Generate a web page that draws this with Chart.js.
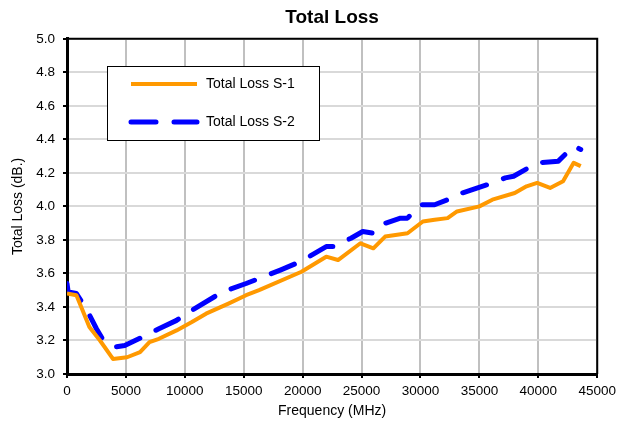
<!DOCTYPE html>
<html>
<head>
<meta charset="utf-8">
<script src="https://cdn.jsdelivr.net/npm/chart.js@4/dist/chart.umd.min.js"></script>
<style>
  body { margin: 0; background: #fff; }
</style>
</head>
<body>
<canvas id="lossChart" width="621" height="429"></canvas>
<script>
// values
var freqS1 = [0, 800, 1900, 2800, 3900, 5100, 6200, 7000, 7800, 9300, 10600, 11800, 13700, 15200,
  16300, 19900, 22000, 23000, 24900, 26000, 27000, 28900, 30200, 31200, 32300, 33100, 35000,
  36100, 38000, 39000, 39900, 41000, 42100, 43000, 43600];
var lossS1 = [3.48, 3.47, 3.28, 3.20, 3.09, 3.10, 3.13, 3.19, 3.21, 3.26, 3.31, 3.36, 3.42, 3.47,
  3.50, 3.61, 3.70, 3.68, 3.78, 3.75, 3.82, 3.84, 3.91, 3.92, 3.93, 3.97, 4.00,
  4.04, 4.08, 4.12, 4.14, 4.11, 4.15, 4.26, 4.24];

var freqS2 = [0, 100, 800, 1700, 2500, 3000, 4000, 4900, 6400, 7800, 9300, 10600, 13200, 15200,
  16300, 18100, 19800, 22000, 22600, 24100, 25100, 26000, 26600, 28300, 28900, 30000, 31200,
  32700, 33100, 35700, 37200, 37900, 39900, 41700, 43000, 43600];
var lossS2 = [3.54, 3.49, 3.48, 3.38, 3.27, 3.21, 3.16, 3.17, 3.22, 3.27, 3.32, 3.38, 3.49, 3.54,
  3.57, 3.62, 3.67, 3.76, 3.76, 3.81, 3.85, 3.84, 3.89, 3.93, 3.93, 4.01, 4.01,
  4.05, 4.07, 4.13, 4.17, 4.18, 4.26, 4.27, 4.36, 4.34];

var xTicks = [0, 5000, 10000, 15000, 20000, 25000, 30000, 35000, 40000, 45000];
var yTicks = [3.0, 3.2, 3.4, 3.6, 3.8, 4.0, 4.2, 4.4, 4.6, 4.8, 5.0];
var seriesNames = ['Total Loss S-1', 'Total Loss S-2'];

var FONT = 'Arial, "Liberation Sans", sans-serif';

function toPoints(xs, ys) {
  return xs.map(function (x, i) { return { x: x, y: ys[i] }; });
}

// frame on top and right, Excel style
var framePlugin = {
  id: 'frame',
  afterDatasetsDraw: function (chart) {
    var a = chart.chartArea, ctx = chart.ctx;
    ctx.save();
    ctx.strokeStyle = '#000';
    ctx.lineWidth = 2;
    ctx.beginPath();
    ctx.moveTo(a.left, a.top);
    ctx.lineTo(a.right, a.top);
    ctx.lineTo(a.right, a.bottom);
    ctx.stroke();
    ctx.restore();
  }
};

// legend box inside the plot
var boxLegend = {
  id: 'boxLegend',
  afterDraw: function (chart) {
    var ctx = chart.ctx;
    var bx = 107, by = 66, bw = 212, bh = 74;
    ctx.save();
    ctx.fillStyle = '#fff';
    ctx.fillRect(bx, by, bw, bh);
    ctx.strokeStyle = '#000';
    ctx.lineWidth = 1;
    ctx.strokeRect(bx + 0.5, by + 0.5, bw, bh);

    chart.data.datasets.forEach(function (ds, i) {
      var y = i === 0 ? 84 : 122;
      ctx.strokeStyle = ds.borderColor;
      ctx.lineWidth = ds.borderWidth;
      ctx.lineCap = ds.borderCapStyle || 'butt';
      ctx.setLineDash(ds.borderDash || []);
      ctx.beginPath();
      ctx.moveTo(131, y);
      ctx.lineTo(197, y);
      ctx.stroke();
      ctx.setLineDash([]);
      ctx.fillStyle = '#000';
      ctx.font = '14px ' + FONT;
      ctx.textBaseline = 'middle';
      ctx.fillText(ds.label, 206, y);
    });
    ctx.restore();
  }
};

var ctx = document.getElementById('lossChart').getContext('2d');

new Chart(ctx, {
  type: 'line',
  data: {
    datasets: [
      {
        label: seriesNames[0],
        data: toPoints(freqS1, lossS1),
        borderColor: '#ff9900',
        borderWidth: 4,
        borderJoinStyle: 'round',
        pointRadius: 0,
        tension: 0,
        fill: false
      },
      {
        label: seriesNames[1],
        data: toPoints(freqS2, lossS2),
        borderColor: '#0000ff',
        borderWidth: 5,
        borderDash: [25, 18],
        borderCapStyle: 'round',
        borderJoinStyle: 'round',
        pointRadius: 0,
        tension: 0,
        fill: false
      }
    ]
  },
  options: {
    responsive: false,
    animation: false,
    layout: { padding: { left: 0, right: 20, top: 0, bottom: 0 } },
    plugins: {
      legend: { display: false },
      tooltip: { enabled: false },
      title: {
        display: true,
        text: 'Total Loss',
        fullSize: false,
        color: '#000',
        font: { family: FONT, size: 19, weight: 'bold' },
        padding: { top: 6, bottom: 10 }
      }
    },
    scales: {
      x: {
        type: 'linear',
        min: 0,
        max: 45000,
        afterBuildTicks: function (s) { s.ticks = xTicks.map(function (v) { return { value: v }; }); },
        afterFit: function (s) { s.height = 55; },
        ticks: {
          color: '#000',
          font: { family: FONT, size: 13.5 },
          padding: 5,
          maxRotation: 0,
          callback: function (v) { return String(v); }
        },
        grid: {
          color: '#c0c0c0',
          lineWidth: 2,
          tickColor: '#000',
          tickLength: 4,
          tickWidth: 2
        },
        border: { display: true, color: '#000', width: 3 },
        title: {
          display: true,
          text: 'Frequency (MHz)',
          color: '#000',
          font: { family: FONT, size: 14 },
          padding: { top: 0, bottom: 9 }
        }
      },
      y: {
        min: 3.0,
        max: 5.0,
        afterBuildTicks: function (s) { s.ticks = yTicks.map(function (v) { return { value: v }; }); },
        afterFit: function (s) { s.width = 67; },
        ticks: {
          color: '#000',
          font: { family: FONT, size: 13.5 },
          padding: 8,
          callback: function (v) { return Number(v).toFixed(1); }
        },
        grid: {
          color: '#d9d9d9',
          lineWidth: 2,
          tickColor: '#000',
          tickLength: 4,
          tickWidth: 2
        },
        border: { display: true, color: '#000', width: 3 },
        title: {
          display: true,
          text: 'Total Loss (dB.)',
          color: '#000',
          font: { family: FONT, size: 14 },
          padding: { top: 10, bottom: 0 }
        }
      }
    }
  },
  plugins: [framePlugin, boxLegend]
});
</script>
</body>
</html>
